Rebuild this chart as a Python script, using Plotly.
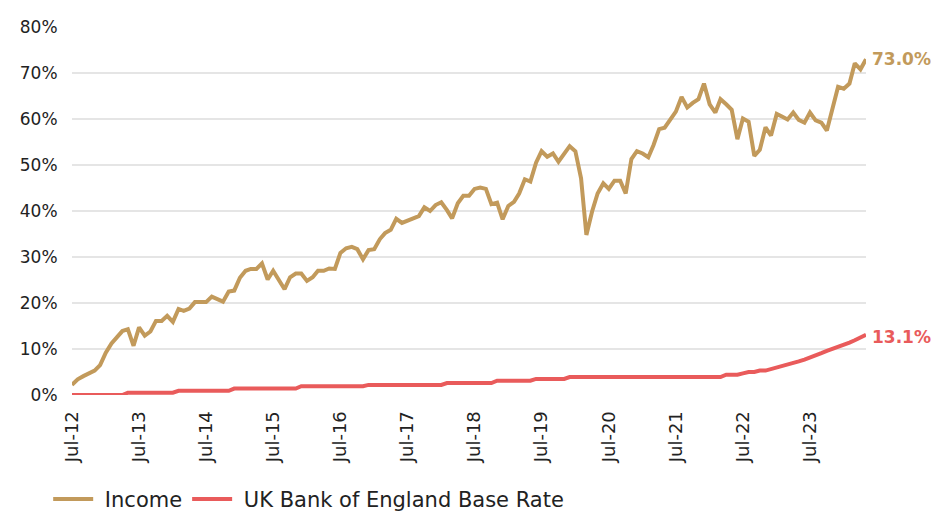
import plotly.graph_objects as go
import pandas as pd

# Monthly series, Jul-2012 .. May-2024
months = pd.date_range("2012-07-01", periods=143, freq="MS")

income = [
    2.2, 3.4, 4.1, 4.6, 5.3, 6.5, 9.2, 11.2, 12.5, 13.9,
    14.3, 10.7, 14.7, 12.9, 13.8, 16.1, 16.1, 17.2, 15.9, 18.7,
    18.3, 18.8, 20.2, 20.2, 20.2, 21.4, 20.9, 20.3, 22.5, 22.7,
    25.5, 27.0, 27.4, 27.4, 28.6, 25.1, 27.0, 24.8, 23.0, 25.6,
    26.4, 26.4, 24.8, 25.6, 27.0, 27.0, 27.5, 27.4, 30.9, 31.9,
    32.2, 31.7, 29.5, 31.5, 31.7, 33.9, 35.2, 35.9, 38.3, 37.4,
    37.9, 38.6, 38.9, 40.8, 40.0, 41.3, 41.9, 40.2, 38.4, 41.7,
    43.3, 43.3, 44.8, 45.1, 44.8, 41.5, 41.8, 38.2, 41.1, 42.0,
    43.8, 46.9, 46.4, 50.5, 53.0, 51.8, 52.5, 50.7, 52.4, 54.1,
    53.0, 47.1, 34.8, 39.9, 43.8, 46.0, 44.8, 46.6, 46.6, 43.8,
    51.3, 53.0, 52.5, 51.7, 54.3, 57.8, 58.1, 59.9, 61.6, 64.8,
    62.5, 63.5, 64.3, 67.7, 63.2, 61.4, 64.3, 63.2, 62.0, 55.6,
    60.1, 59.4, 52.0, 53.3, 58.2, 56.4, 61.1, 60.5, 59.9, 61.4,
    59.8, 59.2, 61.4, 59.7, 59.2, 57.5, 62.3, 67.0, 66.6, 67.7,
    72.1, 70.8, 73.0,
]

base_rate = (
    [0.0] * 10 + [0.5] * 9 + [0.9] * 10 + [1.4] * 12 + [1.9] * 12
    + [2.2] * 14 + [2.6] * 9 + [3.1] * 7 + [3.5] * 6 + [3.9] * 28
    + [4.4] * 3 + [4.7] + [5.0] * 2 + [5.3] * 2
    + [5.6, 5.9, 6.3, 6.6, 6.9, 7.3, 7.7, 8.1, 8.6, 9.1,
       9.6, 10.0, 10.4, 10.9, 11.4, 11.9, 12.5, 13.1]
)

series_names = ["Income", "UK Bank of England Base Rate"]

tick_dates = pd.date_range("2012-07-01", periods=12, freq="12MS")
tick_labels = ["Jul-12", "Jul-13", "Jul-14", "Jul-15", "Jul-16", "Jul-17",
               "Jul-18", "Jul-19", "Jul-20", "Jul-21", "Jul-22", "Jul-23"]
y_ticks = [0, 10, 20, 30, 40, 50, 60, 70, 80]
y_labels = [f"{v}%" for v in y_ticks]

GOLD = "#C29A5B"
RED = "#E95B5B"
FONT = "DejaVu Sans"

fig = go.Figure()
fig.add_trace(go.Scatter(x=months, y=income, mode="lines", name="\u00a0" + series_names[0],
                         line=dict(color=GOLD, width=4)))
fig.add_trace(go.Scatter(x=months, y=base_rate, mode="lines",
                         name="\u00a0" + series_names[1],
                         line=dict(color=RED, width=4)))

fig.add_annotation(x=months[-1], y=income[-1], text=f"<b>{income[-1]:.1f}%</b>",
                   xref="x", yref="y", xanchor="left", yanchor="middle",
                   xshift=4, showarrow=False, font=dict(color=GOLD, size=17, family=FONT))
fig.add_annotation(x=months[-1], y=base_rate[-1], text=f"<b>{base_rate[-1]:.1f}%</b>",
                   xref="x", yref="y", xanchor="left", yanchor="middle",
                   xshift=4, yshift=-2, showarrow=False, font=dict(color=RED, size=17, family=FONT))

fig.update_layout(
    width=931, height=504,
    margin=dict(l=64, r=73, t=19, b=117, autoexpand=False),
    paper_bgcolor="white", plot_bgcolor="white",
    font=dict(family=FONT, size=17, color="#222222"),
    showlegend=True,
    legend=dict(orientation="h", x=-0.03, xanchor="left", y=-0.228, yanchor="top",
                font=dict(size=21, color="#222222"), itemwidth=40,
                bgcolor="rgba(0,0,0,0)"),
    xaxis=dict(range=[months[0], months[-1]], tickvals=tick_dates, ticktext=tick_labels,
               tickangle=-90, showgrid=False, showline=False, zeroline=False,
               ticks="outside", ticklen=8, tickcolor="rgba(0,0,0,0)",
               automargin=False, tickfont=dict(size=18)),
    yaxis=dict(range=[0, 80], tickvals=y_ticks, ticktext=y_labels,
               showgrid=True, gridcolor="#E5E5E5", gridwidth=1.5,
               zeroline=False, showline=False,
               ticks="outside", ticklen=10, tickcolor="rgba(0,0,0,0)",
               automargin=False, tickfont=dict(size=17)),
)

fig.write_html("out.html")
